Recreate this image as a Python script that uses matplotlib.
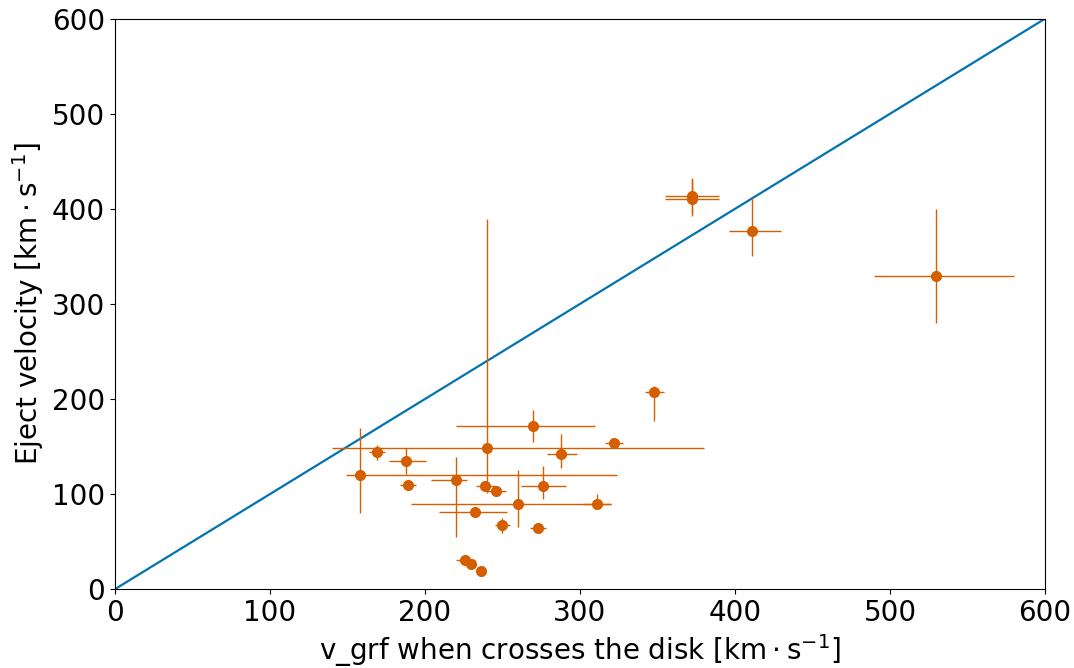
import numpy as np
import matplotlib
matplotlib.use('Agg')
import matplotlib.pyplot as plt

# values
v_grf = [270, 240, 288, 322, 348, 169, 188, 158, 189, 220, 239, 246, 276,
         260, 311, 232, 250, 273, 226, 230, 236, 372, 372, 411, 530]
v_eject = [172, 149, 142, 154, 207, 144, 135, 120, 110, 115, 108, 103, 108,
           90, 90, 81, 67, 64, 31, 26, 19, 414, 410, 377, 329]
x_lo = [50, 100, 9, 6, 6, 5, 11, 9, 5, 16, 6, 6, 14, 69, 9, 23, 5, 5, 6, 3, 1, 17, 17, 15, 40]
x_hi = [40, 140, 10, 6, 6, 5, 13, 166, 5, 7, 6, 6, 15, 60, 9, 21, 5, 5, 6, 3, 1, 18, 18, 19, 50]
y_lo = [17, 48, 15, 5, 30, 8, 14, 40, 2, 60, 5, 2, 13, 25, 6, 2, 8, 3, 2, 2, 1, 18, 17, 27, 49]
y_hi = [16, 240, 21, 5, 7, 8, 14, 50, 2, 24, 5, 2, 22, 35, 10, 2, 8, 3, 2, 2, 1, 18, 20, 34, 71]

fig, ax = plt.subplots(figsize=(10.74, 6.68), dpi=100)
fig.subplots_adjust(left=0.107, right=0.973, top=0.972, bottom=0.118)

ax.plot([0, 600], [0, 600], color='#0173b2', lw=1.6)
ax.errorbar(v_grf, v_eject, xerr=[x_lo, x_hi], yerr=[y_lo, y_hi],
            fmt='o', color='#d55e00', ms=7, elinewidth=1, capsize=0)

ax.set_xlim(0, 600)
ax.set_ylim(0, 600)
ax.tick_params(labelsize=20)
ax.set_xlabel(r'v_grf when crosses the disk [$\mathrm{km \cdot s^{-1}}$]', fontsize=20)
ax.set_ylabel(r'Eject velocity [$\mathrm{km \cdot s^{-1}}$]', fontsize=20)

fig.savefig('out.png', dpi=100)
